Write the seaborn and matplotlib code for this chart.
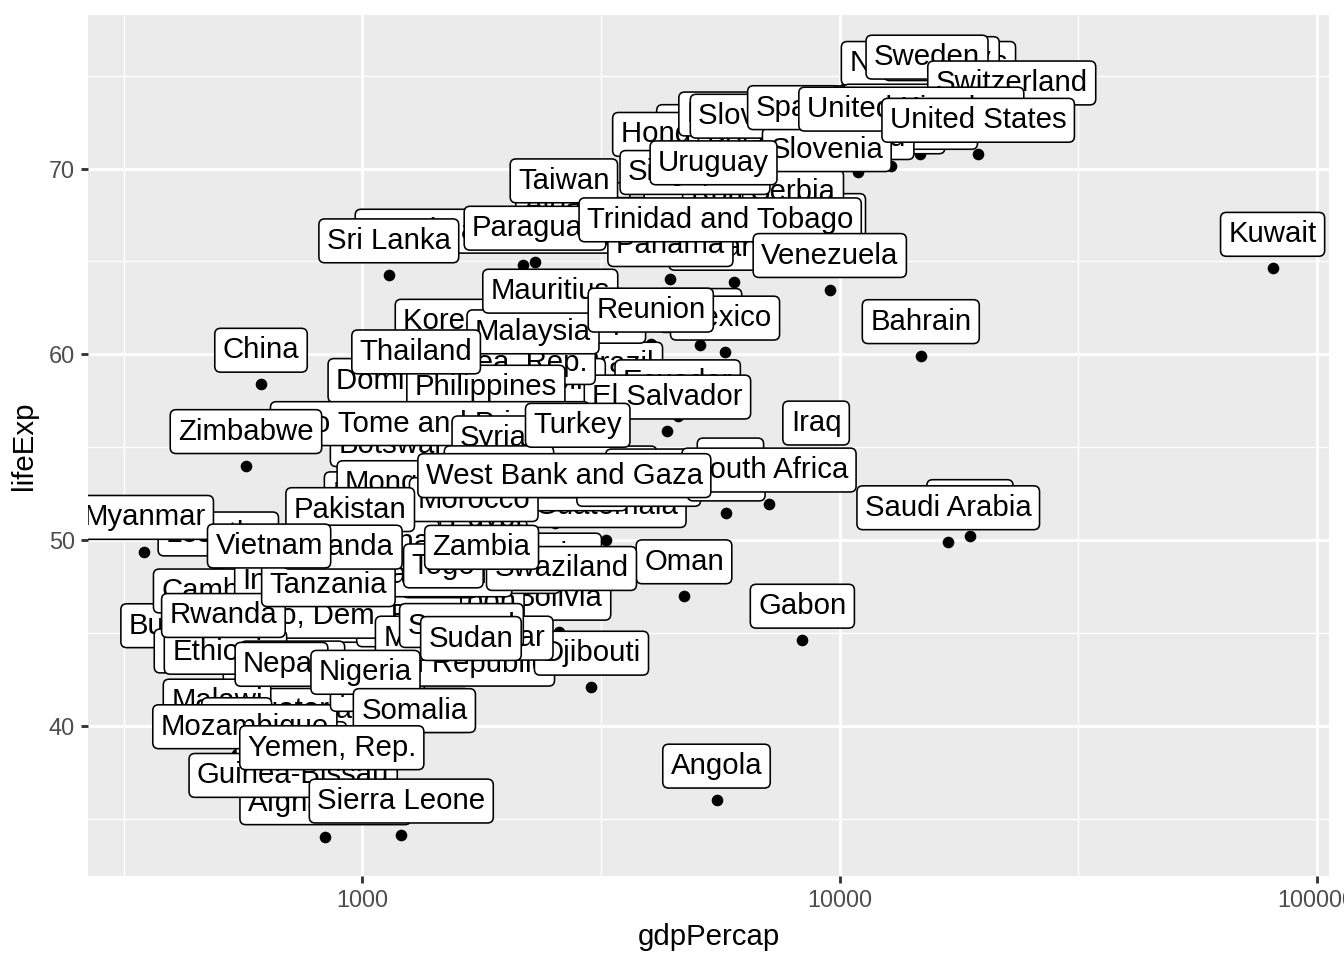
import numpy as np
import pandas as pd
import matplotlib
matplotlib.use("Agg")
import matplotlib.pyplot as plt
import matplotlib.ticker as mticker
import seaborn as sns

# gapminder, year 1967 (alphabetical, as ggplot draws them)
countries = [
    "Afghanistan", "Albania", "Algeria", "Angola", "Argentina", "Australia", "Austria",
    "Bahrain", "Bangladesh", "Belgium", "Benin", "Bolivia", "Bosnia and Herzegovina",
    "Botswana", "Brazil", "Bulgaria", "Burkina Faso", "Burundi", "Cambodia", "Cameroon",
    "Canada", "Central African Republic", "Chad", "Chile", "China", "Colombia", "Comoros",
    "Congo, Dem. Rep.", "Congo, Rep.", "Costa Rica", "Cote d'Ivoire", "Croatia", "Cuba",
    "Czech Republic", "Denmark", "Djibouti", "Dominican Republic", "Ecuador", "Egypt",
    "El Salvador", "Equatorial Guinea", "Eritrea", "Ethiopia", "Finland", "France", "Gabon",
    "Gambia", "Germany", "Ghana", "Greece", "Guatemala", "Guinea", "Guinea-Bissau", "Haiti",
    "Honduras", "Hong Kong, China", "Hungary", "Iceland", "India", "Indonesia", "Iran",
    "Iraq", "Ireland", "Israel", "Italy", "Jamaica", "Japan", "Jordan", "Kenya",
    "Korea, Dem. Rep.", "Korea, Rep.", "Kuwait", "Lebanon", "Lesotho", "Liberia", "Libya",
    "Madagascar", "Malawi", "Malaysia", "Mali", "Mauritania", "Mauritius", "Mexico",
    "Mongolia", "Montenegro", "Morocco", "Mozambique", "Myanmar", "Namibia", "Nepal",
    "Netherlands", "New Zealand", "Nicaragua", "Niger", "Nigeria", "Norway", "Oman",
    "Pakistan", "Panama", "Paraguay", "Peru", "Philippines", "Poland", "Portugal",
    "Puerto Rico", "Reunion", "Romania", "Rwanda", "Sao Tome and Principe", "Saudi Arabia",
    "Senegal", "Serbia", "Sierra Leone", "Singapore", "Slovak Republic", "Slovenia",
    "Somalia", "South Africa", "Spain", "Sri Lanka", "Sudan", "Swaziland", "Sweden",
    "Switzerland", "Syria", "Taiwan", "Tanzania", "Thailand", "Togo", "Trinidad and Tobago",
    "Tunisia", "Turkey", "Uganda", "United Kingdom", "United States", "Uruguay",
    "Venezuela", "Vietnam", "West Bank and Gaza", "Yemen, Rep.", "Zambia", "Zimbabwe",
]

gdp_per_cap = [
    836.2, 2760.2, 3247.0, 5522.8, 8053.0, 14526.1, 12834.6,
    14804.7, 721.2, 13149.0, 1035.8, 2586.9, 2172.4,
    1214.7, 3429.9, 5577.0, 854.7, 413.0, 523.4, 1508.5,
    16076.6, 1136.1, 1196.8, 5106.7, 612.7, 2678.7, 1876.0,
    861.6, 2677.9, 4161.7, 2052.1, 6960.3, 5690.3,
    11399.4, 15937.2, 3020.1, 1653.7, 4579.1, 1814.9,
    4358.6, 915.6, 468.8, 516.1, 10921.6, 12999.9, 8358.8,
    734.8, 14745.6, 1125.7, 8513.1, 3242.5, 708.8, 715.6, 1452.1,
    2538.3, 6198.0, 9326.6, 13319.9, 700.8, 762.4, 5906.7,
    8931.5, 7655.6, 8393.7, 10022.4, 6124.7, 9847.8, 2741.8, 1056.7,
    2143.5, 2029.2, 80894.9, 6007.0, 498.6, 713.5, 18772.8,
    1634.0, 495.5, 2277.7, 545.0, 1421.1, 2475.4, 5754.7,
    1226.0, 5907.9, 1711.0, 566.7, 349.0, 3793.7, 676.4,
    15363.3, 16046.0, 4643.4, 1054.4, 1014.5, 16361.9, 4720.9,
    942.4, 4421.0, 2299.4, 5788.1, 1814.1, 6557.2, 6361.5,
    6929.3, 4021.2, 6470.9, 511.0, 1384.8, 16903.0,
    1612.4, 7991.7, 1206.0, 4977.4, 8412.9, 9405.5,
    1284.7, 7114.5, 7993.5, 1135.5, 1688.0, 2613.1, 15258.3,
    22966.1, 1881.9, 2643.6, 848.2, 1295.5, 1477.6, 5621.4,
    1932.4, 2826.4, 908.9, 14142.9, 19530.4, 5444.6,
    9541.5, 637.1, 2649.7, 862.4, 1777.1, 569.8,
]

life_exp = [
    34.02, 66.22, 51.41, 35.99, 65.63, 71.10, 70.14,
    59.92, 43.45, 70.94, 44.89, 45.03, 64.79,
    53.30, 57.63, 70.42, 40.70, 43.55, 45.42, 44.80,
    72.13, 41.48, 43.60, 60.52, 58.38, 59.96, 46.47,
    44.06, 52.04, 65.42, 47.35, 68.50, 68.29,
    70.38, 72.96, 42.07, 56.75, 56.68, 49.29,
    55.86, 38.99, 42.19, 42.12, 69.83, 71.55, 44.60,
    35.86, 70.80, 48.07, 71.00, 50.02, 37.20, 35.49, 46.24,
    50.92, 70.00, 69.50, 73.73, 47.19, 45.96, 52.47,
    54.46, 70.99, 70.75, 71.06, 67.51, 71.43, 51.63, 50.65,
    59.94, 57.72, 64.62, 63.87, 48.49, 41.54, 50.23,
    42.88, 39.49, 59.37, 38.49, 46.29, 61.56, 60.11,
    51.25, 67.18, 50.34, 38.11, 49.38, 51.16, 41.47,
    73.82, 71.52, 51.88, 40.12, 41.04, 74.08, 46.99,
    49.80, 64.07, 64.95, 51.45, 56.39, 69.61, 66.60,
    71.10, 60.54, 66.80, 44.10, 54.43, 49.90,
    43.56, 66.91, 34.11, 67.95, 70.98, 69.18,
    38.98, 51.93, 71.44, 64.27, 42.86, 46.63, 74.16,
    72.77, 53.66, 67.50, 45.76, 58.29, 46.77, 65.40,
    52.05, 54.34, 47.78, 71.36, 70.76, 68.47,
    63.48, 47.84, 51.63, 36.98, 47.77, 54.00,
]

label_nudge = 2

sns.set_theme(style="darkgrid", rc={
    "axes.facecolor": "#EBEBEB",
    "grid.color": "white",
    "axes.edgecolor": "#EBEBEB",
})
plt.rcParams["font.family"] = ["Liberation Sans", "DejaVu Sans"]

df = pd.DataFrame({"country": countries, "gdpPercap": gdp_per_cap, "lifeExp": life_exp})

fig, ax = plt.subplots(figsize=(7, 5), dpi=192)
fig.subplots_adjust(left=88 / 1344, right=1329 / 1344, bottom=1 - 876 / 960, top=1 - 15 / 960)

sns.scatterplot(data=df, x="gdpPercap", y="lifeExp", color="black", s=19,
                linewidth=0, ax=ax, zorder=2)

for _, row in df.iterrows():
    ax.text(row["gdpPercap"], row["lifeExp"] + label_nudge, row["country"],
            ha="center", va="center_baseline", fontsize=11, color="black", zorder=3,
            clip_on=True,
            bbox=dict(boxstyle="round,pad=0.27,rounding_size=0.2",
                      fc="white", ec="black", lw=0.6))

ax.set_xscale("log")

# ggplot style 5% expansion
lx = np.log10(df["gdpPercap"])
xr = lx.max() - lx.min()
ax.set_xlim(10 ** (lx.min() - 0.05 * xr), 10 ** (lx.max() + 0.05 * xr))
ymin = df["lifeExp"].min()
ymax = (df["lifeExp"] + label_nudge).max()
yr = ymax - ymin
ax.set_ylim(ymin - 0.05 * yr, ymax + 0.05 * yr)

ax.xaxis.set_major_locator(mticker.FixedLocator([1000, 10000, 100000]))
ax.xaxis.set_major_formatter(mticker.FixedFormatter(["1000", "10000", "100000"]))
ax.xaxis.set_minor_locator(mticker.FixedLocator([10 ** 2.5, 10 ** 3.5, 10 ** 4.5]))
ax.xaxis.set_minor_formatter(mticker.NullFormatter())
ax.yaxis.set_major_locator(mticker.FixedLocator([40, 50, 60, 70]))
ax.yaxis.set_minor_locator(mticker.FixedLocator([35, 45, 55, 65, 75]))

ax.grid(which="major", color="white", linewidth=1.07)
ax.grid(which="minor", color="white", linewidth=0.53)
ax.set_axisbelow(True)

ax.tick_params(which="major", length=2.75, width=1.07, color="#333333",
               labelsize=8.8, labelcolor="#4D4D4D", pad=2.2)
ax.tick_params(which="minor", length=0)
ax.tick_params(axis="x", which="major", bottom=True)
ax.tick_params(axis="y", which="major", left=True)

for spine in ax.spines.values():
    spine.set_visible(False)

ax.set_xlabel("gdpPercap", fontsize=11, color="black", labelpad=4)
ax.set_ylabel("lifeExp", fontsize=11, color="black", labelpad=4)

fig.savefig("out.png", dpi=192)
plt.close(fig)
